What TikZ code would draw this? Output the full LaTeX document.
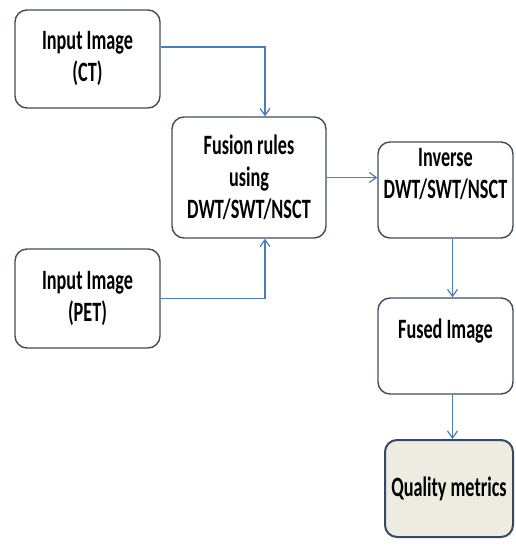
\documentclass[tikz,border=0pt]{standalone}
\usepackage{fontspec}
\newfontfamily\boxfont{Carlito}[FakeStretch=0.65]
\usepackage{tikz}
\usetikzlibrary{arrows.meta}
\definecolor{boxline}{HTML}{3F4D5E}
\definecolor{arrowline}{HTML}{4A7EBB}
\definecolor{metricfill}{HTML}{EEECE1}
\definecolor{metricline}{HTML}{34496A}

\begin{document}
\begin{tikzpicture}[x=1pt,y=-1pt,
	> = {Straight Barb[length=7pt,width=10pt]}, % open arrow head
	link/.style={draw=arrowline,line width=1.2pt,->},
	block/.style={draw=boxline,line width=1.4pt,rounded corners=12pt,fill=white,
		align=center,inner sep=0pt,font=\boxfont\bfseries\fontsize{28}{32}\selectfont},
	metric/.style={block,fill=metricfill,draw=metricline,line width=2pt}]
	\useasboundingbox (0,0) rectangle (515,555);

	\node[block,minimum width=145pt,minimum height=98pt] (ct) at (87.5,59) {Input Image\\(CT)};
	\node[block,minimum width=145pt,minimum height=99pt] (pet) at (87.5,298.5) {Input Image\\(PET)};
	\node[block,minimum width=154pt,minimum height=121pt] (fusion) at (249,177.5) {Fusion rules\\using\\DWT/SWT/NSCT};
	\node[block,minimum width=135pt,minimum height=96pt] (inverse) at (445.5,190) {Inverse\\DWT/SWT/NSCT\\[2pt]\mbox{}};
	\node[block,minimum width=135pt,minimum height=96pt] (fused) at (445.5,346) {Fused Image\\[2pt]\mbox{}};
	\node[metric,minimum width=128pt,minimum height=97pt] (quality) at (449,488.5) {Quality metrics};

	\draw[link] ([yshift=12pt]ct.east) -| ([xshift=16pt]fusion.north);
	\draw[link] (pet.east) -| ([xshift=16pt]fusion.south);
	\draw[link] (fusion.east) -- (fusion.east -| inverse.west);
	\draw[link] ([xshift=7pt]inverse.south) -- ([xshift=7pt]inverse.south |- fused.north);
	\draw[link] ([xshift=7pt]fused.south) -- ([xshift=7pt]fused.south |- quality.north);

\end{tikzpicture}
\end{document}
